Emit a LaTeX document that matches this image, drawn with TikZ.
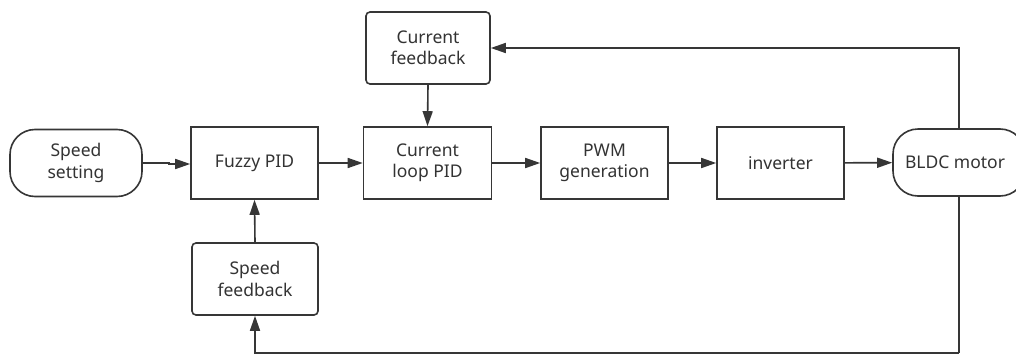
\documentclass[tikz,border=0pt]{standalone}
\usepackage{fontspec}
\setmainfont{Noto Sans}
\usetikzlibrary{arrows.meta}
\definecolor{lc}{HTML}{363636}
\definecolor{tc}{HTML}{333333}
\begin{document}
\begin{tikzpicture}[x=1pt,y=-1pt,
  base/.style={draw=lc, line width=1.6pt, fill=white, text=tc, align=center,
    inner sep=0pt, font=\fontsize{17.5}{21.5}\selectfont},
  blk/.style={base, minimum width=128pt, minimum height=72pt},
  rblk/.style={blk, rounded corners=4pt},
  term/.style={base, minimum height=67pt, rounded corners=25pt},
  arr/.style={draw=lc, line width=1.6pt, -{Triangle[length=15pt,width=10pt]}},
  ln/.style={draw=lc, line width=1.6pt}]
\clip (0,0) rectangle (1016,356);
\fill[white] (0,0) rectangle (1016,356);

% main signal path
\node[term, minimum width=132pt] (ss) at (76,163) {Speed\\setting};
\node[blk, minimum width=127pt] (fz) at (254.5,163) {Fuzzy PID};
\node[blk] (cl) at (427.5,163) {Current\\loop PID};
\node[blk, minimum width=127pt] (pwm) at (604.5,163) {PWM\\generation};
\node[blk, minimum width=127pt] (inv) at (780.5,163) {inverter};
\node[term, minimum width=132pt] (m) at (959,162.5) {\hspace*{-8pt}BLDC motor};

% feedback blocks
\node[rblk, minimum width=124pt] (cf) at (428,48) {Current\\feedback};
\node[rblk, minimum width=126pt] (sf) at (255,279) {Speed\\feedback};

% forward connectors
\draw[arr] (ss.east) -- ++(26,0) |- ([yshift=-1pt]fz.west);
\draw[arr] (fz) -- (cl);
\draw[arr] (cl) -- (pwm);
\draw[arr] (pwm) -- (inv);
\draw[arr] (inv) -- (m);

% current loop
\draw[arr] (m.north) |- (cf.east);
\draw[arr] (cf.south) -- (cl.north);

% speed loop
\coordinate (low) at (959,353);
\draw[ln] (m.south) -- (low);
\draw[arr] (low) -| (sf.south);
\draw[arr] (sf.north) -- (fz.south);
\end{tikzpicture}
\end{document}
